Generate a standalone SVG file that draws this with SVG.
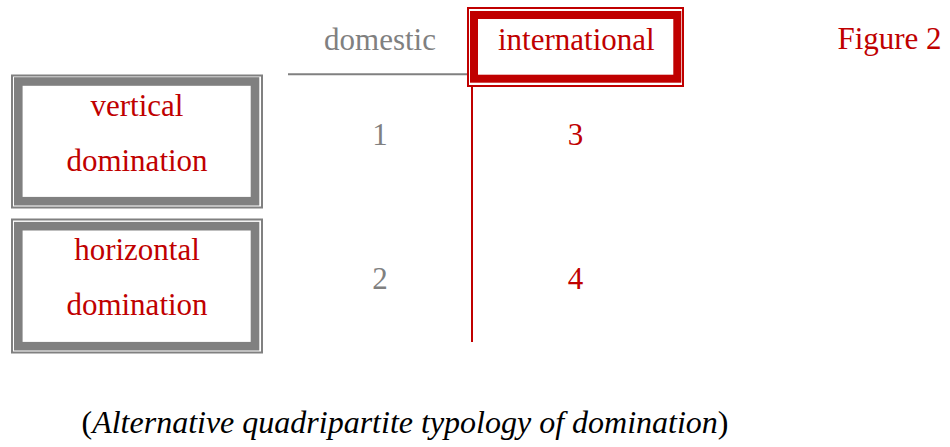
<svg xmlns="http://www.w3.org/2000/svg" width="950" height="447" viewBox="0 0 950 447">
  <style>
    text { font-size: 31px; text-anchor: middle; }
    text.caption { font-size: 32px; fill: #000000; }
    .red { fill: #C00000; }
    .grey { fill: #808080; }
    .frame-grey-outer { fill: none; stroke: #808080; stroke-width: 2; }
    .frame-grey-inner { fill: none; stroke: #808080; stroke-width: 8.6; }
    .frame-red-outer { fill: none; stroke: #C00000; stroke-width: 2; }
    .frame-red-inner { fill: none; stroke: #C00000; stroke-width: 8; }
  </style>
  <rect width="950" height="447" fill="#ffffff"/>

  <!-- axis lines -->
  <g id="connectors">
    <line x1="288" y1="74.3" x2="468" y2="74.3" stroke="#808080" stroke-width="2"/>
    <line x1="472" y1="86" x2="472" y2="342" stroke="#C00000" stroke-width="2"/>
  </g>

  <g font-family="'Liberation Serif', 'DejaVu Serif', serif">
    <g id="domestic">
      <text class="grey" x="380" y="49.5">domestic</text>
    </g>

    <g id="international">
      <rect class="frame-red-outer" x="468" y="8" width="215" height="78"/>
      <rect class="frame-red-inner" x="474" y="15" width="203.3" height="63.7"/>
      <text class="red" x="576.3" y="50">international</text>
    </g>

    <g id="figure-label">
      <text class="red" x="889.5" y="48.5">Figure 2</text>
    </g>

    <g id="vertical">
      <rect class="frame-grey-outer" x="12" y="75.5" width="250" height="132"/>
      <rect class="frame-grey-inner" x="18.3" y="81.5" width="236.7" height="119.7"/>
      <text class="red" x="137" y="116">vertical</text>
      <text class="red" x="137" y="171">domination</text>
    </g>

    <g id="horizontal">
      <rect class="frame-grey-outer" x="12" y="219.5" width="250" height="133"/>
      <rect class="frame-grey-inner" x="18.3" y="226.2" width="236.7" height="120"/>
      <text class="red" x="137" y="260">horizontal</text>
      <text class="red" x="137" y="315">domination</text>
    </g>

    <g id="cell-1"><text class="grey" x="380" y="145">1</text></g>
    <g id="cell-3"><text class="red" x="575.5" y="145">3</text></g>
    <g id="cell-2"><text class="grey" x="380" y="289">2</text></g>
    <g id="cell-4"><text class="red" x="575.5" y="289">4</text></g>

    <g id="caption">
      <text class="caption" x="405" y="433">(<tspan font-style="italic">Alternative quadripartite typology of domination</tspan>)</text>
    </g>
  </g>
</svg>
